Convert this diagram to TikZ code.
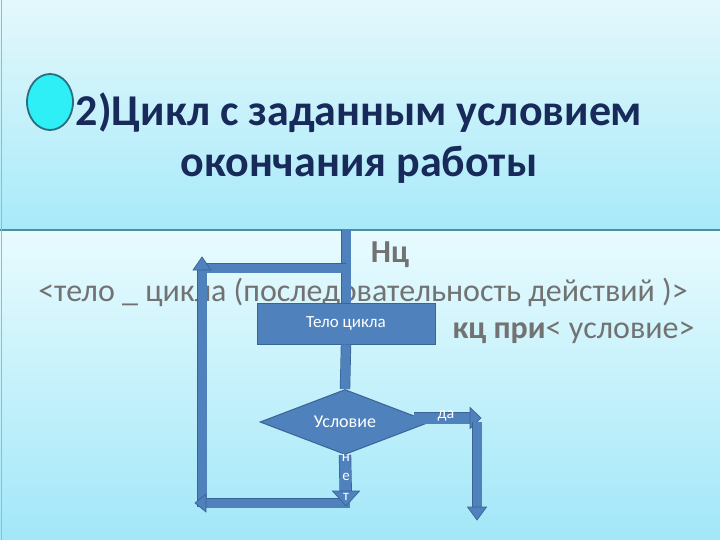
\documentclass[tikz,border=0pt]{standalone}
\usepackage{fontspec}
\setmainfont{Carlito}
\usetikzlibrary{shapes.geometric}
\definecolor{skytop}{HTML}{E4F8FC}
\definecolor{skymid}{HTML}{A8EAF9}
\definecolor{skylow}{HTML}{E8FBFE}
\definecolor{skybot}{HTML}{A2E7F8}
\definecolor{rulecol}{HTML}{4F8D9C}
\definecolor{titlecol}{HTML}{172A5A}
\definecolor{textgray}{HTML}{727272}
\definecolor{flowblue}{HTML}{4F81BD}
\definecolor{flowedge}{HTML}{3A6494}
\definecolor{dotfill}{HTML}{2EEEF6}
\definecolor{dotedge}{HTML}{2B6E7E}

\begin{document}
\begin{tikzpicture}[x=1pt,y=-1pt,
  flow/.style={line width=9pt, draw=flowblue, preaction={draw=flowedge, line width=10.4pt}},
  bigflow/.style={line width=11pt, draw=flowblue, preaction={draw=flowedge, line width=12.4pt}},
  headfill/.style={fill=flowblue, draw=flowedge, line width=0.7pt, line join=miter},
  flowbox/.style={fill=flowblue, draw=flowedge, line width=1pt, text=white, inner sep=0pt}]
\useasboundingbox (0,0) rectangle (720,540);

\shade[top color=skytop, bottom color=skymid] (0,0) rectangle (720,229); % title band
\shade[top color=skylow, bottom color=skybot] (0,231) rectangle (720,540); % body band
\draw[rulecol, line width=1.5pt] (0,230) -- (720,230); % band divider
\draw[rulecol!60, line width=1pt] (1.5,0) -- (1.5,540); % left edge

\node[ellipse, fill=dotfill, draw=dotedge, line width=1.8pt,
      minimum width=46pt, minimum height=56pt, inner sep=0pt] (dot) at (50,102) {}; % bullet
\node[titlecol, align=center, font=\fontsize{44}{51}\selectfont\bfseries] (title) at (359,138)
  {2)Цикл с заданным условием\\окончания работы}; % title

\node[textgray, font=\fontsize{32}{34}\selectfont\bfseries] (nc) at (390,255) {Нц}; % loop start
\node[textgray, font=\fontsize{32}{34}\selectfont] (bodytxt) at (363,292)
  {<тело \_ цикла (последовательность действий )>}; % loop body
\node[textgray, font=\fontsize{32}{34}\selectfont, anchor=east] (kc) at (698,333)
  {\textbf{кц при}< условие>}; % loop end

\coordinate (entry) at (346,230); % entry line
\node[flowbox, minimum width=178pt, minimum height=41pt,
      font=\fontsize{17}{19}\selectfont] (body) at (346,323.5) {Тело цикла}; % body box
\node[flowbox, diamond, minimum width=170pt, minimum height=65pt,
      label={[text=white, font=\fontsize{18}{20}\selectfont]center:Условие}] (cond) at (345,422) {}; % condition

\draw[flow] (entry) -- (body.north); % into body
\draw[flow] (body.south) -- (cond.north); % body to condition

\coordinate (split) at (346,268); % branch on entry line
\coordinate (topleft) at (202,268); % top-left corner
\coordinate (noend) at (346,506); % tip of no arrow
\coordinate (botleft) at (195,503); % bottom-left tip
\coordinate (botright) at (350,503); % bottom bar start
\coordinate (lowleft) at (202,507); % left bar foot
\coordinate (upleft) at (202,257); % left bar tip
\coordinate (yesstart) at (414,418); % yes arrow start
\coordinate (yesend) at (481,418); % yes arrow tip
\coordinate (downtop) at (477,422); % right arrow start
\coordinate (downend) at (477,520); % right arrow tip

\draw[flow, shorten >=11pt] (lowleft) -- (upleft); % left bar up
\draw[flow] (split) -- (topleft); % top bar
\filldraw[headfill] (upleft) -- ++(-9,13) -- ++(18,0) -- cycle; % left bar head
\draw[flow, shorten >=9pt] (botright) -- (botleft); % bottom bar left
\filldraw[headfill] (botleft) -- ++(11,-9) -- ++(0,18) -- cycle; % its head
\draw[bigflow, shorten >=13pt] (cond.south) -- (noend); % no arrow
\filldraw[headfill] (noend) -- ++(-13.5,-15) -- ++(27,0) -- cycle; % its head
\draw[bigflow, shorten >=9pt] (yesstart) -- (yesend); % yes arrow
\filldraw[headfill] (yesend) -- ++(-11,-10.5) -- ++(0,21) -- cycle; % its head
\draw[flow, shorten >=11pt] (downtop) -- (downend); % exit down
\filldraw[headfill] (downend) -- ++(-9.5,-13) -- ++(19,0) -- cycle; % its head

\node[white, font=\fontsize{16}{18}\selectfont] (yes) at (446,416) {да}; % yes label
\node[white, align=center, font=\fontsize{15}{19.5}\selectfont] (no) at (346,477) {н\\е\\т}; % no label
\end{tikzpicture}
\end{document}
